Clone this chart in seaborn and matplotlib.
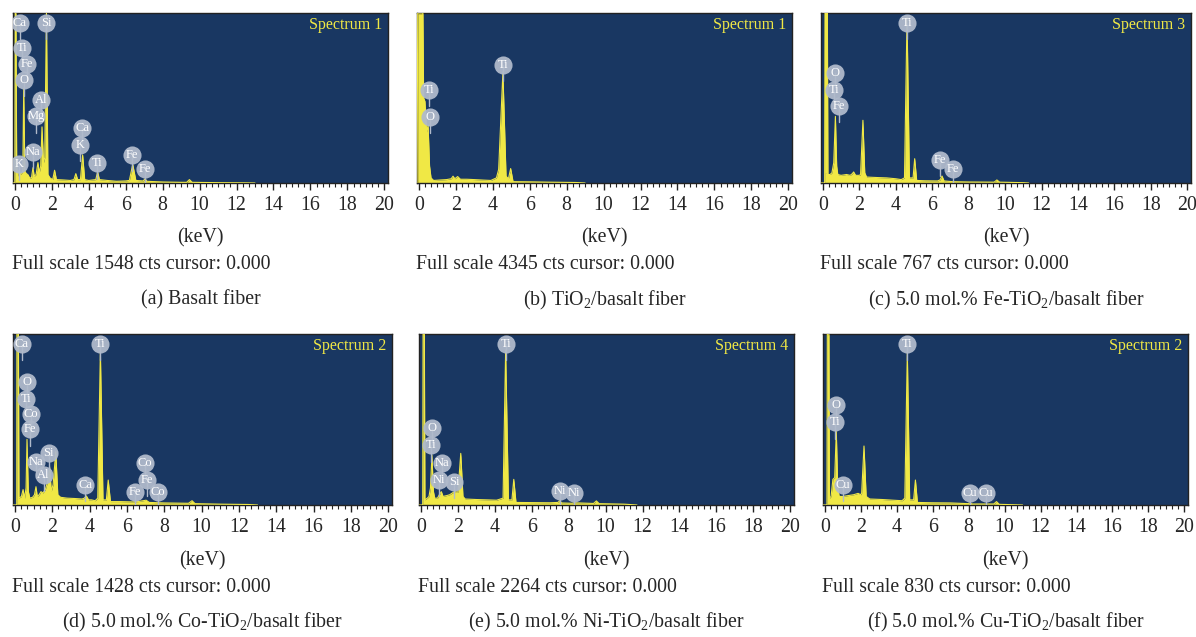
import matplotlib
matplotlib.use("Agg")
import matplotlib.pyplot as plt
from matplotlib.ticker import MultipleLocator
import seaborn as sns
import pandas as pd

sns.set_style("white")
plt.rcParams['font.family'] = ['Liberation Serif', 'DejaVu Serif']
plt.rcParams['mathtext.fontset'] = 'custom'
plt.rcParams['mathtext.rm'] = 'Liberation Serif'

# ---------------- data (intensity relative to full scale) ----------------
full_scale = [1548, 4345, 767, 1428, 2264, 830]
spectrum_names = ["Spectrum 1", "Spectrum 1", "Spectrum 3", "Spectrum 2", "Spectrum 4", "Spectrum 2"]
captions = ["(a) Basalt fiber",
            "(b) TiO$_{\\mathrm{2}}$/basalt fiber",
            "(c) 5.0 mol.% Fe-TiO$_{\\mathrm{2}}$/basalt fiber",
            "(d) 5.0 mol.% Co-TiO$_{\\mathrm{2}}$/basalt fiber",
            "(e) 5.0 mol.% Ni-TiO$_{\\mathrm{2}}$/basalt fiber",
            "(f) 5.0 mol.% Cu-TiO$_{\\mathrm{2}}$/basalt fiber"]
tick_labels = [0, 2, 4, 6, 8, 10, 12, 14, 16, 18, 20]

spec_a = [(-0.1, 0), (0.0, 0), (0.02, 1.0), (0.06, 1.0), (0.1, 0.1), (0.15, 0.04), (0.22, 0.075),
          (0.3, 0.05), (0.38, 0.06), (0.43, 0.07), (0.48, 0.56), (0.54, 0.07), (0.62, 0.055),
          (0.7, 0.05), (0.8, 0.03), (0.9, 0.03), (0.98, 0.09), (1.05, 0.04), (1.15, 0.05),
          (1.25, 0.12), (1.32, 0.06), (1.40, 0.10), (1.47, 0.33), (1.55, 0.12), (1.62, 0.15),
          (1.71, 1.0), (1.79, 0.05), (1.9, 0.03), (2.05, 0.02), (2.15, 0.075), (2.25, 0.02),
          (2.6, 0.018), (3.0, 0.015), (3.2, 0.02), (3.3, 0.055), (3.4, 0.02), (3.55, 0.02),
          (3.67, 0.165), (3.78, 0.02), (4.0, 0.015), (4.38, 0.02), (4.48, 0.065), (4.58, 0.02),
          (5.0, 0.015), (5.5, 0.01), (6.0, 0.012), (6.2, 0.015), (6.38, 0.11), (6.55, 0.015),
          (6.95, 0.012), (7.05, 0.025), (7.15, 0.01), (8.0, 0.006), (9.0, 0.004), (9.3, 0.004),
          (9.45, 0.02), (9.6, 0.004), (11.0, 0.002), (12.5, 0.001), (13.0, 0.0)]
spec_b = [(-0.1, 0), (-0.06, 1.0), (0.22, 1.0), (0.26, 0.5), (0.33, 0.48), (0.42, 0.3), (0.5, 0.34),
          (0.58, 0.1), (0.66, 0.03), (0.8, 0.015), (1.2, 0.018), (1.5, 0.02), (1.75, 0.025),
          (1.85, 0.04), (1.95, 0.025), (2.1, 0.038), (2.25, 0.022), (2.6, 0.022), (3.0, 0.02),
          (3.5, 0.017), (3.9, 0.015), (4.2, 0.03), (4.32, 0.08), (4.55, 0.653), (4.72, 0.04),
          (4.85, 0.025), (4.97, 0.085), (5.1, 0.008), (6.0, 0.007), (7.0, 0.005), (8.5, 0.003),
          (9.0, 0.0)]
spec_c = [(-0.1, 0), (0.1, 0), (0.12, 1.0), (0.16, 1.0), (0.18, 0.06), (0.21, 0.06), (0.22, 1.0),
          (0.25, 1.0), (0.28, 0.05), (0.4, 0.05), (0.5, 0.06), (0.6, 0.12), (0.69, 0.392),
          (0.76, 0.1), (0.82, 0.05), (1.0, 0.045), (1.3, 0.05), (1.5, 0.045), (1.62, 0.055),
          (1.69, 0.065), (1.8, 0.045), (2.0, 0.045), (2.07, 0.05), (2.2, 0.369), (2.3, 0.06),
          (2.4, 0.035), (3.0, 0.032), (3.5, 0.03), (4.0, 0.025), (4.3, 0.02), (4.48, 0.03),
          (4.62, 0.976), (4.75, 0.03), (4.95, 0.03), (5.04, 0.143), (5.15, 0.015), (5.6, 0.013),
          (6.3, 0.012), (6.43, 0.018), (6.54, 0.041), (6.65, 0.012), (7.1, 0.008), (8.0, 0.006),
          (9.4, 0.005), (9.55, 0.018), (9.7, 0.005), (11.0, 0.002), (11.3, 0.0)]
spec_d = [(-0.1, 0), (0.1, 0), (0.11, 1.0), (0.19, 1.0), (0.22, 0.04), (0.35, 0.05), (0.44, 0.09),
          (0.52, 0.04), (0.6, 0.1), (0.65, 0.384), (0.72, 0.08), (0.8, 0.04), (0.95, 0.045),
          (1.05, 0.06), (1.13, 0.107), (1.2, 0.05), (1.3, 0.06), (1.4, 0.078), (1.5, 0.07),
          (1.63, 0.09), (1.74, 0.13), (1.86, 0.224), (1.95, 0.08), (2.05, 0.12), (2.19, 0.312),
          (2.3, 0.06), (2.45, 0.045), (2.8, 0.04), (3.2, 0.038), (3.6, 0.035), (3.72, 0.04),
          (3.83, 0.053), (3.95, 0.03), (4.1, 0.03), (4.3, 0.025), (4.44, 0.04), (4.58, 0.9),
          (4.72, 0.03), (4.9, 0.03), (5.0, 0.146), (5.12, 0.02), (5.6, 0.02), (6.3, 0.018),
          (6.6, 0.02), (7.03, 0.028), (7.2, 0.015), (8.0, 0.012), (9.3, 0.01), (9.49, 0.025),
          (9.65, 0.008), (11.0, 0.005), (12.5, 0.003), (13.0, 0.0)]
spec_e = [(-0.1, 0), (0.1, 0), (0.12, 1.0), (0.19, 1.0), (0.22, 0.03), (0.35, 0.04), (0.44, 0.05),
          (0.52, 0.1), (0.6, 0.292), (0.68, 0.08), (0.75, 0.04), (0.9, 0.04), (1.0, 0.06),
          (1.11, 0.078), (1.2, 0.05), (1.4, 0.055), (1.56, 0.06), (1.7, 0.07), (1.83, 0.078),
          (2.01, 0.075), (2.16, 0.302), (2.28, 0.05), (2.4, 0.035), (3.0, 0.032), (3.6, 0.03),
          (4.1, 0.028), (4.45, 0.04), (4.59, 0.906), (4.74, 0.03), (4.93, 0.03), (5.03, 0.15),
          (5.15, 0.015), (6.0, 0.014), (7.0, 0.013), (7.42, 0.015), (7.52, 0.025), (7.62, 0.012),
          (8.2, 0.01), (8.3, 0.013), (9.35, 0.009), (9.5, 0.024), (9.65, 0.008), (11.0, 0.005),
          (11.7, 0.0)]
spec_f = [(-0.1, 0), (0.12, 0), (0.14, 1.0), (0.23, 1.0), (0.26, 0.04), (0.35, 0.05), (0.45, 0.15),
          (0.55, 0.16), (0.64, 0.43), (0.72, 0.1), (0.8, 0.05), (1.0, 0.05), (1.3, 0.055),
          (1.6, 0.06), (1.85, 0.068), (2.0, 0.06), (2.05, 0.07), (2.18, 0.345), (2.3, 0.05),
          (2.5, 0.035), (3.2, 0.032), (3.8, 0.028), (4.3, 0.025), (4.45, 0.04), (4.59, 0.897),
          (4.72, 0.03), (4.94, 0.03), (5.04, 0.146), (5.15, 0.015), (6.0, 0.013), (7.0, 0.012),
          (7.95, 0.008), (8.06, 0.012), (8.2, 0.006), (9.4, 0.006), (9.55, 0.02), (9.7, 0.004),
          (11.0, 0.0)]

lab_a = [("Ca", 0.26, 0.941), ("Si", 1.71, 0.941), ("Ti", 0.41, 0.794), ("Fe", 0.66, 0.702),
         ("O", 0.48, 0.608), ("Al", 1.43, 0.49), ("Mg", 1.16, 0.392), ("Na", 0.98, 0.182),
         ("K", 0.22, 0.114), ("Ca", 3.64, 0.324), ("K", 3.55, 0.225), ("Ti", 4.45, 0.118),
         ("Fe", 6.34, 0.167), ("Fe", 7.03, 0.084)]
lab_b = [("Ti", 4.57, 0.696), ("Ti", 0.53, 0.545), ("O", 0.59, 0.388)]
lab_c = [("O", 0.69, 0.647), ("Ti", 0.63, 0.549), ("Fe", 0.87, 0.451), ("Ti", 4.62, 0.941),
         ("Fe", 6.44, 0.137), ("Fe", 7.14, 0.08)]
lab_d = [("Ca", 0.38, 0.942), ("O", 0.65, 0.721), ("Ti", 0.58, 0.618), ("Co", 0.86, 0.532),
         ("Fe", 0.79, 0.442), ("Si", 1.81, 0.306), ("Na", 1.15, 0.253), ("Al", 1.54, 0.175),
         ("Ca", 3.78, 0.117), ("Ti", 4.54, 0.942), ("Co", 6.95, 0.244), ("Fe", 7.08, 0.146),
         ("Fe", 6.42, 0.078), ("Co", 7.67, 0.078)]
lab_e = [("O", 0.62, 0.448), ("Ti", 0.57, 0.349), ("Na", 1.16, 0.244), ("Ni", 0.98, 0.146),
         ("Si", 1.8, 0.136), ("Ti", 4.59, 0.942), ("Ni", 7.52, 0.084), ("Ni", 8.29, 0.072)]
lab_f = [("O", 0.64, 0.585), ("Ti", 0.59, 0.483), ("Cu", 1.01, 0.117), ("Ti", 4.59, 0.942),
         ("Cu", 8.06, 0.068), ("Cu", 8.95, 0.068)]

spectra = [spec_a, spec_b, spec_c, spec_d, spec_e, spec_f]
labels = [lab_a, lab_b, lab_c, lab_d, lab_e, lab_f]

# ---------------- layout (pixel boxes of each panel) ----------------
W, H = 1196, 637
boxes = [(13, 388, 13, 183), (417, 792, 13, 183), (821, 1191, 13, 183),
         (13, 392, 334, 505), (419, 794, 334, 505), (823, 1188, 334, 505)]
row_text = {0: (238, 265, 300), 1: (561, 587, 622)}

BG = "#193762"
YEL = "#f0e845"
LABC = "#b0bacb"
FS_TXT = 14.3

fig = plt.figure(figsize=(W / 100, H / 100), dpi=100)

for i in range(6):
    l, r, t, b = boxes[i]
    ax = fig.add_axes([l / W, 1 - b / H, (r - l) / W, (b - t) / H])
    ax.set_facecolor(BG)
    df = pd.DataFrame(spectra[i], columns=["keV", "rel"])
    ax.fill_between(df["keV"], 0, df["rel"], color=YEL, linewidth=0, zorder=2)
    sns.lineplot(data=df, x="keV", y="rel", ax=ax, color=YEL, linewidth=0.8,
                 sort=False, estimator=None, zorder=3)
    ax.set_xlim(-0.1, 20.2)
    ax.set_ylim(0, 1.0)
    ax.set_yticks([])
    ax.set_xticks(tick_labels)
    ax.set_xticklabels([str(v) for v in tick_labels], fontsize=FS_TXT)
    ax.xaxis.set_minor_locator(MultipleLocator(1 / 3))
    ax.tick_params(axis="x", which="major", direction="out", length=5, width=1,
                   color="#222222", pad=4.5, bottom=True)
    ax.tick_params(axis="x", which="minor", direction="out", length=3, width=0.8,
                   color="#222222", bottom=True)
    for s in ax.spines.values():
        s.set_color("#222222")
        s.set_linewidth(1.0)

    # element labels
    lab = pd.DataFrame(labels[i], columns=["el", "keV", "rel"])
    for _, row in lab.iterrows():
        ax.plot([row["keV"], row["keV"]], [row["rel"], row["rel"] - 0.095],
                color=LABC, linewidth=1.0, zorder=4)
    sns.scatterplot(data=lab, x="keV", y="rel", ax=ax, s=170, color=LABC, alpha=0.95,
                    linewidth=0, zorder=5, legend=False)
    for _, row in lab.iterrows():
        ax.text(row["keV"], row["rel"], row["el"], color="white", fontsize=9,
                ha="center", va="center", zorder=6)
    ax.set_xlabel("")
    ax.set_ylabel("")

    ax.text(0.985, 0.93, spectrum_names[i], transform=ax.transAxes, color=YEL,
            fontsize=11.5, ha="right", va="center", zorder=7)

    ykev, yfs, ycap = row_text[i // 3]
    cx = (l + r) / 2 / W
    fig.text(cx, 1 - ykev / H, "(keV)", ha="center", va="center", fontsize=FS_TXT)
    fig.text((l - 1) / W, 1 - yfs / H, f"Full scale {full_scale[i]} cts cursor: 0.000",
             ha="left", va="center", fontsize=FS_TXT)
    fig.text(cx, 1 - ycap / H, captions[i], ha="center", va="center", fontsize=FS_TXT)

fig.savefig("out.png", dpi=100, facecolor="white")
